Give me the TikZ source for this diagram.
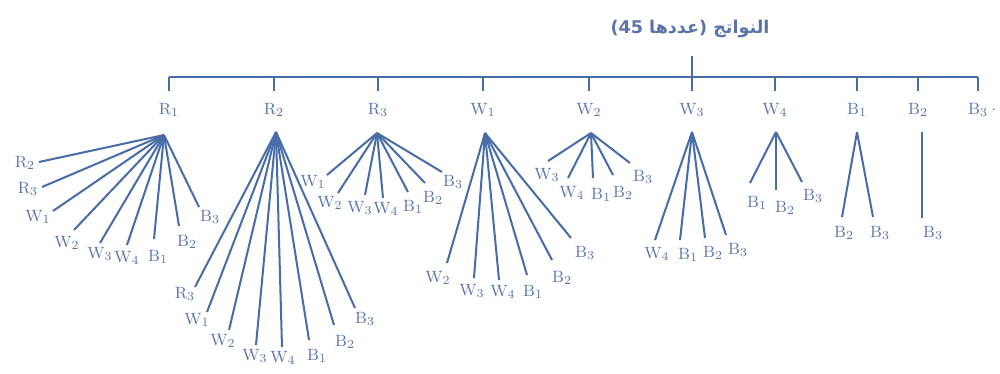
\documentclass[tikz,border=0pt]{standalone}
\usepackage{fontspec}
\TeXXeTstate=1
\newfontfamily\arabicfont[Script=Arabic]{DejaVu Sans}
\definecolor{lineblue}{RGB}{72,108,168}
\definecolor{textblue}{RGB}{88,116,170}
\begin{document}
\begin{tikzpicture}[x=0.02cm,y=-0.02cm,
  line/.style={draw=lineblue,line width=1.15pt},
  barline/.style={draw=lineblue,line width=1.4pt},
  lab/.style={text=textblue,font=\fontsize{9.3}{11}\selectfont,inner sep=0pt},
  titlelab/.style={text=textblue,font=\arabicfont\bfseries\fontsize{10}{12}\selectfont,inner sep=0pt}]
\useasboundingbox (0,0) rectangle (1000,373);
% title and bar
\node[titlelab] (T) at (690,29) {\beginR النواتج (عددها \beginL45\endL)\endR};
\coordinate (stemtop) at (692,56);
\coordinate (stembot) at (692,77);
\coordinate (barL) at (169,77);
\coordinate (barR) at (978,77);
\draw[barline] (barL) -- (barR);
\draw[line] (stemtop) -- (stembot);
% top ticks and labels
\foreach \x/\t/\n in {169/R$_1$/R1,274/R$_2$/R2,378/R$_3$/R3,483/W$_1$/W1,589/W$_2$/W2,692/W$_3$/W3,775/W$_4$/W4,857/B$_1$/B1,918/B$_2$/B2,978/B$_3$/B3}{
  \coordinate (k\n) at (\x,77);
  \coordinate (kb\n) at (\x,91);
  \draw[line] (k\n) -- (kb\n);
  \node[lab] (top\n) at (\x,110) {\t};
}
\node[lab,anchor=west] (dot) at (991,110) {.};
% subtree R1
\coordinate (aR1) at (164,135);
\foreach \ex/\ey/\lx/\ly/\t [count=\i] in {39/162/25/163/R$_2$,42/187/28/189/R$_3$,53/211/38/217/W$_1$,74/230/67/243/W$_2$,100/243/100/254/W$_3$,127/245/127/258/W$_4$,154/239/158/257/B$_1$,179/226/187/242/B$_2$,199/207/210/217/B$_3$}{
  \coordinate (eR1\i) at (\ex,\ey);
  \node[lab] (lR1\i) at (\lx,\ly) {\t};
  \draw[line] (aR1) -- (eR1\i);
}
% subtree R2
\coordinate (aR2) at (276,132);
\foreach \ex/\ey/\lx/\ly/\t [count=\i] in {195/287/185/294/R$_3$,207/312/197/320/W$_1$,229/330/223/341/W$_2$,256/345/255/356/W$_3$,282/347/283/358/W$_4$,309/340/317/356/B$_1$,334/325/345/342/B$_2$,355/308/365/319/B$_3$}{
  \coordinate (eR2\i) at (\ex,\ey);
  \node[lab] (lR2\i) at (\lx,\ly) {\t};
  \draw[line] (aR2) -- (eR2\i);
}
% subtree R3
\coordinate (aR3) at (377,133);
\foreach \ex/\ey/\lx/\ly/\t [count=\i] in {327/175/313/182/W$_1$,338/193/330/203/W$_2$,365/195/360/208/W$_3$,383/198/386/209/W$_4$,408/192/413/207/B$_1$,425/183/433/198/B$_2$,442/172/453/182/B$_3$}{
  \coordinate (eR3\i) at (\ex,\ey);
  \node[lab] (lR3\i) at (\lx,\ly) {\t};
  \draw[line] (aR3) -- (eR3\i);
}
% subtree W1
\coordinate (aW1) at (485,133);
\foreach \ex/\ey/\lx/\ly/\t [count=\i] in {447/263/438/278/W$_2$,474/278/472/291/W$_3$,499/280/503/292/W$_4$,527/275/533/292/B$_1$,552/260/562/278/B$_2$,571/238/585/253/B$_3$}{
  \coordinate (eW1\i) at (\ex,\ey);
  \node[lab] (lW1\i) at (\lx,\ly) {\t};
  \draw[line] (aW1) -- (eW1\i);
}
% subtree W2
\coordinate (aW2) at (591,133);
\foreach \ex/\ey/\lx/\ly/\t [count=\i] in {548/161/547/175/W$_3$,568/178/572/193/W$_4$,593/178/601/195/B$_1$,613/175/623/193/B$_2$,630/163/643/177/B$_3$}{
  \coordinate (eW2\i) at (\ex,\ey);
  \node[lab] (lW2\i) at (\lx,\ly) {\t};
  \draw[line] (aW2) -- (eW2\i);
}
% subtree W3
\coordinate (aW3) at (692,132);
\foreach \ex/\ey/\lx/\ly/\t [count=\i] in {655/240/657/254/W$_4$,680/240/688/255/B$_1$,705/238/713/253/B$_2$,726/235/738/250/B$_3$}{
  \coordinate (eW3\i) at (\ex,\ey);
  \node[lab] (lW3\i) at (\lx,\ly) {\t};
  \draw[line] (aW3) -- (eW3\i);
}
% subtree W4
\coordinate (aW4) at (776,132);
\foreach \ex/\ey/\lx/\ly/\t [count=\i] in {750/183/757/203/B$_1$,776/190/785/208/B$_2$,802/182/813/196/B$_3$}{
  \coordinate (eW4\i) at (\ex,\ey);
  \node[lab] (lW4\i) at (\lx,\ly) {\t};
  \draw[line] (aW4) -- (eW4\i);
}
% subtree B1
\coordinate (aB1) at (857,132);
\foreach \ex/\ey/\lx/\ly/\t [count=\i] in {842/217/844/233/B$_2$,873/217/880/233/B$_3$}{
  \coordinate (eB1\i) at (\ex,\ey);
  \node[lab] (lB1\i) at (\lx,\ly) {\t};
  \draw[line] (aB1) -- (eB1\i);
}
% subtree B2
\coordinate (aB2) at (922,132);
\coordinate (eB21) at (922,218);
\node[lab] (lB21) at (933,233) {B$_3$};
\draw[line] (aB2) -- (eB21);
\end{tikzpicture}
\end{document}
